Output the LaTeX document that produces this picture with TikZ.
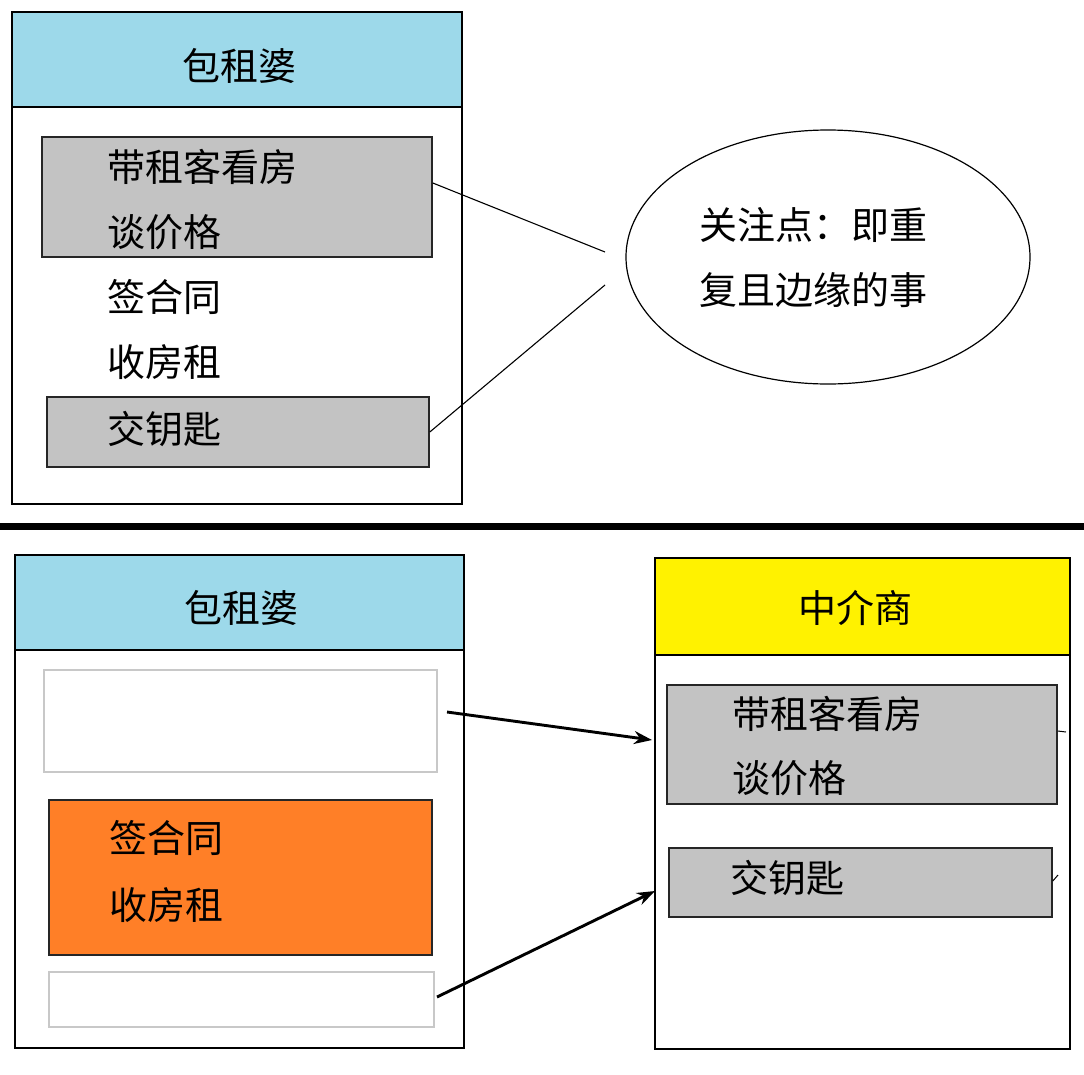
\documentclass[tikz,border=0pt]{standalone}
\usepackage{fontspec}
\setmainfont{Noto Sans CJK SC}
\usetikzlibrary{arrows.meta,shapes.geometric}
\definecolor{hdrblue}{HTML}{9DD9EA}
\definecolor{boxgray}{HTML}{C3C3C3}
\definecolor{boxorange}{HTML}{FF7F27}
\definecolor{hdryellow}{HTML}{FFF200}
\definecolor{lightedge}{HTML}{C8C8C8}
\newcommand{\tfont}{\fontsize{38}{44}\selectfont}
\tikzset{
  frame/.style={draw=black, line width=1.6pt, anchor=north west, inner sep=0pt},
  graybox/.style={draw=black!85, fill=boxgray, line width=1.8pt, anchor=north west, inner sep=0pt},
  emptybox/.style={draw=lightedge, line width=1.8pt, anchor=north west, inner sep=0pt},
  lbl/.style={anchor=west, inner sep=0pt, font=\tfont},
  ttl/.style={inner sep=0pt, font=\tfont},
  link/.style={line width=1.1pt},
  arr/.style={line width=2.9pt, -{Stealth[length=18pt,width=13pt]}}
}
\begin{document}
\begin{tikzpicture}[x=1pt,y=-1pt]
\useasboundingbox (0,0) rectangle (1084,1074);
% ---------- top panel ----------
\node[frame, minimum width=450, minimum height=492] (tbox) at (11,11) {};
\node[frame, fill=hdrblue, minimum width=450, minimum height=95] (thdr) at (11,11) {};
\node[ttl] (ttitle) at (239,66) {包租婆};
\node[graybox, minimum width=390, minimum height=120] (tg1) at (41,136) {};
\node[lbl] (t1) at (107,167) {带租客看房};
\node[lbl] (t2) at (107,232) {谈价格};
\node[lbl] (t3) at (107,297) {签合同};
\node[lbl] (t4) at (107,362) {收房租};
\node[graybox, minimum width=382, minimum height=70] (tg2) at (46,396) {};
\node[lbl] (t5) at (107,429) {交钥匙};
\node[draw, ellipse, line width=1.2pt, minimum width=404, minimum height=254, inner sep=0pt] (ell) at (828,257) {};
\node[lbl] (e1) at (699,225) {关注点：即重};
\node[lbl] (e2) at (699,290) {复且边缘的事};
\coordinate (c1) at (605,252);
\coordinate (c2) at (605,285);
\draw[link] (tg1.east |- 0,183) -- (c1);
\draw[link] (tg2.east |- 0,432) -- (c2);
% ---------- separator ----------
\draw[line width=7pt] (0,526) -- (1084,526);
% ---------- bottom left ----------
\node[frame, minimum width=449, minimum height=493] (bbox) at (14,554) {};
\node[frame, fill=hdrblue, minimum width=449, minimum height=95] (bhdr) at (14,554) {};
\node[ttl] (btitle) at (241,608) {包租婆};
\node[emptybox, minimum width=393, minimum height=102] (be1) at (43,669) {};
\node[graybox, fill=boxorange, minimum width=383, minimum height=155] (bor) at (48,799) {};
\node[lbl] (b1) at (109,838) {签合同};
\node[lbl] (b2) at (109,905) {收房租};
\node[emptybox, minimum width=385, minimum height=55] (be2) at (48,971) {};
% ---------- bottom right ----------
\node[frame, minimum width=415, minimum height=491] (rbox) at (654,557) {};
\node[frame, fill=hdryellow, minimum width=415, minimum height=97] (rhdr) at (654,557) {};
\node[ttl] (rtitle) at (855,608) {中介商};
\node[graybox, minimum width=390, minimum height=119] (rg1) at (666,684) {};
\node[lbl] (r1) at (732,714) {带租客看房};
\node[lbl] (r2) at (732,778) {谈价格};
\node[graybox, minimum width=383, minimum height=69] (rg2) at (668,847) {};
\node[lbl] (r3) at (730,878) {交钥匙};
\draw[line width=1pt] (rg1.east |- 0,731) -- (1066,732);
\draw[line width=1pt] (rg2.east |- 0,881) -- (1058,875);
% ---------- arrows ----------
\coordinate (a1s) at (447,712);
\coordinate (a1e) at (652,740);
\coordinate (a2s) at (437,997);
\coordinate (a2e) at (655,891);
\draw[arr] (a1s) -- (a1e);
\draw[arr] (a2s) -- (a2e);
\end{tikzpicture}
\end{document}
